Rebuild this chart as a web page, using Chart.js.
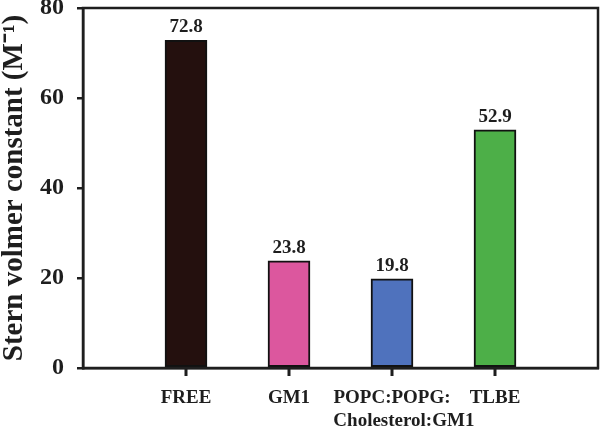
<!DOCTYPE html>
<html>
<head>
<meta charset="utf-8">
<script src="https://cdn.jsdelivr.net/npm/chart.js@4/dist/chart.umd.min.js"></script>
<style>
  html, body { margin: 0; padding: 0; background: #fff; }
  #wrap { width: 600px; height: 426px; }
</style>
</head>
<body>
<div id="wrap"><canvas id="sternChart" width="600" height="426"></canvas></div>
<script>
// blank first/last slots pad the axis so bars sit where the reference puts them
const categories = ["", "FREE", "GM1", ["POPC:POPG:", "     Cholesterol:GM1"], "TLBE", ""];
const sternValues = [null, 72.8, 23.8, 19.8, 52.9, null];
const barColors = ["#000", "#24100e", "#dc579e", "#4f72bd", "#4daf48", "#000"];
const yTicks = [0, 20, 40, 60, 80];

const serif = "'Liberation Serif', 'Times New Roman', serif";
const ink = "#1e1e1e";

// value labels above the bars
const valueLabels = {
    id: "valueLabels",
    afterDatasetsDraw(chart) {
        const ctx = chart.ctx;
        const meta = chart.getDatasetMeta(0);
        ctx.save();
        ctx.font = `bold 19px ${serif}`;
        ctx.fillStyle = ink;
        ctx.textAlign = "center";
        ctx.textBaseline = "alphabetic";
        meta.data.forEach((bar, i) => {
            const v = sternValues[i];
            if (v === null) return;
            ctx.fillText(v.toFixed(1), bar.x, bar.y - 8);
        });
        ctx.restore();
    }
};

// closed frame round the plot, tick marks under the real categories
const frame = {
    id: "frame",
    afterDraw(chart) {
        const a = chart.chartArea;
        const meta = chart.getDatasetMeta(0);
        const ctx = chart.ctx;
        ctx.save();
        ctx.strokeStyle = ink;
        ctx.lineWidth = 2.5;
        ctx.strokeRect(a.left, a.top, a.right - a.left, a.bottom - a.top);
        ctx.fillStyle = ink;
        meta.data.forEach((bar, i) => {
            if (sternValues[i] === null) return;
            ctx.fillRect(Math.round(bar.x) - 1.5, a.bottom, 3, 8);
        });
        ctx.restore();
    }
};

new Chart(document.getElementById("sternChart"), {
    type: "bar",
    data: {
        labels: categories,
        datasets: [{
            data: sternValues,
            backgroundColor: barColors,
            borderColor: "#111",
            borderWidth: 2,
            borderSkipped: false,
            barThickness: 42
        }]
    },
    options: {
        responsive: false,
        animation: false,
        layout: { padding: { left: 0, top: 8, right: 2, bottom: 0 } },
        plugins: {
            legend: { display: false },
            tooltip: { enabled: false }
        },
        scales: {
            x: {
                offset: false,
                grid: { display: false },
                border: { color: ink, width: 2.5 },
                ticks: {
                    autoSkip: false,
                    maxRotation: 0,
                    padding: 11,
                    color: ink,
                    font: { family: serif, size: 19, weight: "bold", lineHeight: 1.2 }
                },
                afterFit: (s) => { s.height = 58; s.paddingLeft = 0; s.paddingRight = 0; }
            },
            y: {
                min: 0,
                max: 80,
                afterBuildTicks: (s) => { s.ticks = yTicks.map((v) => ({ value: v })); },
                grid: { drawOnChartArea: false, tickLength: 6, lineWidth: 2.5, tickColor: ink },
                border: { color: ink, width: 2.5 },
                ticks: {
                    padding: 13,
                    color: ink,
                    font: { family: serif, size: 24, weight: "bold" }
                },
                title: {
                    display: true,
                    text: "Stern volmer constant (M⁻¹)",
                    color: ink,
                    padding: { top: 0, bottom: 0 },
                    font: { family: serif, size: 29, weight: "bold", lineHeight: 1.0 }
                },
                afterFit: (s) => { s.width = 83; s.paddingTop = 0; s.paddingBottom = 0; }
            }
        }
    },
    plugins: [valueLabels, frame]
});
</script>
</body>
</html>
